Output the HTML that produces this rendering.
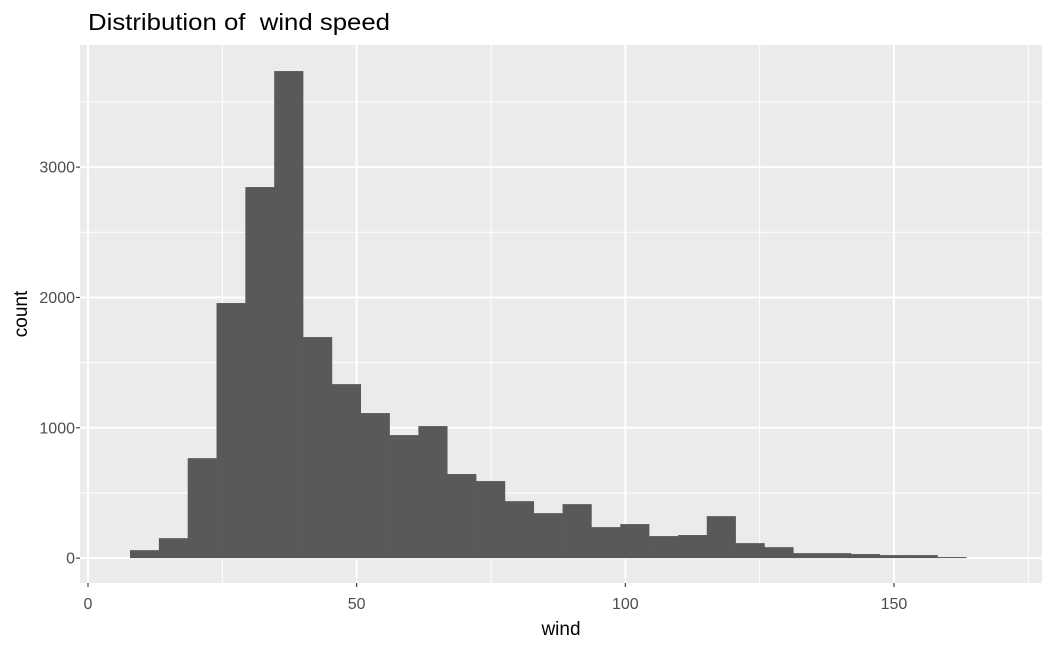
<!DOCTYPE html>
<html><head><meta charset="utf-8"><style>
body{margin:0;background:#fff;font-family:"Liberation Sans",Arial,sans-serif;}
svg{display:block}
</style></head><body>
<svg id="chart" width="1050" height="648">
<text x="88" y="30" font-size="23" textLength="302" lengthAdjust="spacingAndGlyphs" fill="#000" style="white-space:pre">Distribution of&#160; wind speed</text>
<rect x="80" y="45" width="962" height="538" fill="#EBEBEB"/>
<g id="grid"></g><g id="bars"></g><g id="axes"></g>
<text x="561" y="635" font-size="19" text-anchor="middle" fill="#000">wind</text>
<text transform="translate(27,314) rotate(-90)" font-size="19" text-anchor="middle" fill="#000">count</text>
</svg>
<script>
const binStart = 7.82;
const binWidth = 5.367;
const counts = [61,153,767,1957,2847,3737,1696,1335,1113,944,1013,645,591,437,345,414,238,261,169,177,322,115,84,38,38,31,23,23,8];
const xTicks = [0,50,100,150];
const yTicks = [0,1000,2000,3000];
const X0=80,X1=1042,Y0=583,Y1=45;
const xMin=-1.489,xMax=177.55,yMin=-191,yMax=3937;
const sx=v=>X0+(v-xMin)/(xMax-xMin)*(X1-X0);
const sy=v=>Y0-(v-yMin)/(yMax-yMin)*(Y0-Y1);
const NS="http://www.w3.org/2000/svg";
const grid=document.getElementById('grid'),bars=document.getElementById('bars'),axes=document.getElementById('axes');
function line(p,x1,y1,x2,y2,w,c){const l=document.createElementNS(NS,'line');l.setAttribute('x1',x1);l.setAttribute('y1',y1);l.setAttribute('x2',x2);l.setAttribute('y2',y2);l.setAttribute('stroke',c);l.setAttribute('stroke-width',w);p.appendChild(l);return l;}
for(let i=0;i<xTicks.length;i++){
  const m=xTicks[i]+25;const g=line(grid,sx(m),Y1,sx(m),Y0,1,'#fff');
  
  
  const x=sx(xTicks[i]);const g2=line(grid,x,Y1,x,Y0,2,'#fff');
  
  
  const t=line(axes,x,Y0,x,Y0+4,1.1,'#333');
  
  
  const tx=document.createElementNS(NS,'text');tx.setAttribute('x',x);tx.setAttribute('y',609);tx.setAttribute('text-anchor','middle');tx.setAttribute('font-size','16');tx.setAttribute('fill','#4D4D4D');tx.textContent=xTicks[i];
  
  
  axes.appendChild(tx);
}
for(let i=0;i<yTicks.length;i++){
  const m=yTicks[i]+500;const g=line(grid,X0,sy(m),X1,sy(m),1,'#fff');
  
  
  const y=sy(yTicks[i]);const g2=line(grid,X0,y,X1,y,2,'#fff');
  
  
  const t=line(axes,X0-4,y,X0,y,1.1,'#333');
  
  
  const tx=document.createElementNS(NS,'text');tx.setAttribute('x',75);tx.setAttribute('y',y+5.5);tx.setAttribute('text-anchor','end');tx.setAttribute('font-size','16');tx.setAttribute('fill','#4D4D4D');tx.textContent=yTicks[i];
  
  
  axes.appendChild(tx);
}
counts.forEach((c,i)=>{
  const a=binStart+i*binWidth,b=a+binWidth;
  const r=document.createElementNS(NS,'rect');
  r.setAttribute('x',sx(a));r.setAttribute('width',sx(b)-sx(a)+0.3);
  r.setAttribute('y',sy(c));r.setAttribute('height',sy(0)-sy(c));
  r.setAttribute('fill','#595959');
  
  
  bars.appendChild(r);
});
</script>
</body></html>
